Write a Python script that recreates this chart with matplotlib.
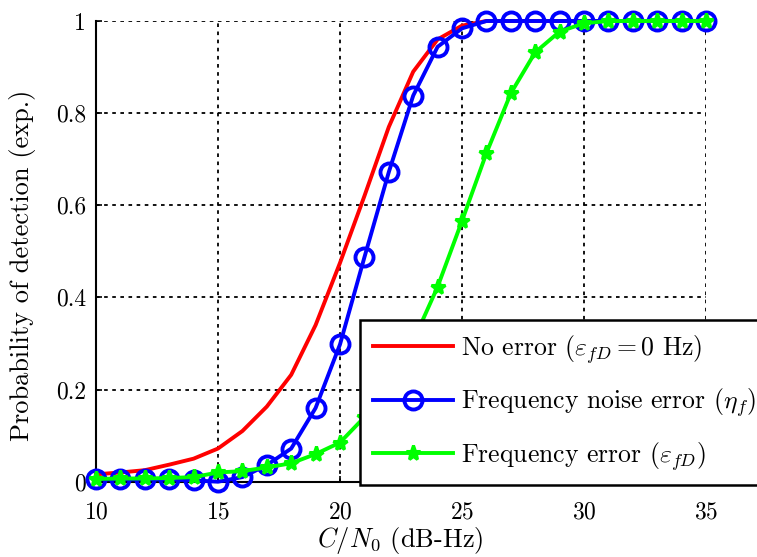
import matplotlib
matplotlib.use("Agg")
import matplotlib.pyplot as plt
import numpy as np

plt.rcParams['font.family'] = ['cmr10', 'DejaVu Serif']
plt.rcParams['mathtext.fontset'] = 'cm'
plt.rcParams['axes.formatter.use_mathtext'] = True

cn0 = list(range(10, 36))
p_no_error = [0.016, 0.020, 0.025, 0.037, 0.050, 0.072, 0.110, 0.163, 0.232, 0.340,
              0.475, 0.620, 0.770, 0.890, 0.960, 0.990, 1.0, 1.0, 1.0, 1.0,
              1.0, 1.0, 1.0, 1.0, 1.0, 1.0]
p_freq_noise = [0.005, 0.005, 0.005, 0.005, 0.003, 0.0, 0.010, 0.036, 0.072, 0.160,
                0.298, 0.487, 0.672, 0.838, 0.944, 0.984, 1.0, 1.0, 1.0, 1.0,
                1.0, 1.0, 1.0, 1.0, 1.0, 1.0]
p_freq_error = [0.006, 0.007, 0.007, 0.008, 0.010, 0.020, 0.023, 0.031, 0.040, 0.060,
                0.085, 0.140, 0.215, 0.305, 0.423, 0.566, 0.713, 0.843, 0.932, 0.977,
                0.995, 1.0, 1.0, 1.0, 1.0, 1.0]

labels = [r'No error ($\varepsilon_{fD} = 0$ Hz)',
          r'Frequency noise error ($\eta_f$)',
          r'Frequency error ($\varepsilon_{fD}$)']

fig = plt.figure(figsize=(7.57, 5.57), dpi=100)
ax = fig.add_axes([96/757, 1 - 481.7/557, (706 - 96)/757, (481.7 - 21)/557])

ax.plot(cn0, p_no_error, color='#ff0000', lw=2.8, label=labels[0], clip_on=False, zorder=3)
ax.plot(cn0, p_freq_noise, color='#0000ff', lw=2.8, marker='o', ms=13, mfc='none',
        mew=2.8, label=labels[1], clip_on=False, zorder=4)
ax.plot(cn0, p_freq_error, color='#00ff00', lw=2.8, marker='*', ms=11, mew=2.2,
        label=labels[2], clip_on=False, zorder=5)

ax.set_xlim(10, 35)
ax.set_ylim(0, 1)
ax.set_xticks([10, 15, 20, 25, 30, 35])
ax.set_yticks([0, 0.2, 0.4, 0.6, 0.8, 1])
ax.set_yticklabels(['0', '0.2', '0.4', '0.6', '0.8', '1'])
ax.tick_params(labelsize=17, direction='in', length=4, width=1.2)
ax.tick_params(axis='x', pad=14)
ax.tick_params(axis='y', pad=7)
ax.grid(True, color='black', linestyle=(0, (2, 2.5)), linewidth=1.3)
for s in ['top', 'right']:
    ax.spines[s].set_visible(False)
for s in ['left', 'bottom']:
    ax.spines[s].set_linewidth(1.5)

ax.set_xlabel(r'$C/N_0$ (dB-Hz)', fontsize=19)
ax.xaxis.set_label_coords(0.498, -0.095)
ax.set_ylabel('Probability of detection (exp.)', fontsize=19)
ax.yaxis.set_label_coords(-0.098, 0.47)

leg = ax.legend(loc='upper left', bbox_to_anchor=(360/757, 1 - 320/557),
                bbox_transform=fig.transFigure, fontsize=18.5, frameon=True,
                fancybox=False, edgecolor='black', facecolor='white', framealpha=1,
                handlelength=3.1, borderpad=0.5, labelspacing=0.8,
                handletextpad=0.35, borderaxespad=0)
leg.get_frame().set_linewidth(1.8)
leg.set_zorder(10)

fig.savefig('out.png', dpi=100)
